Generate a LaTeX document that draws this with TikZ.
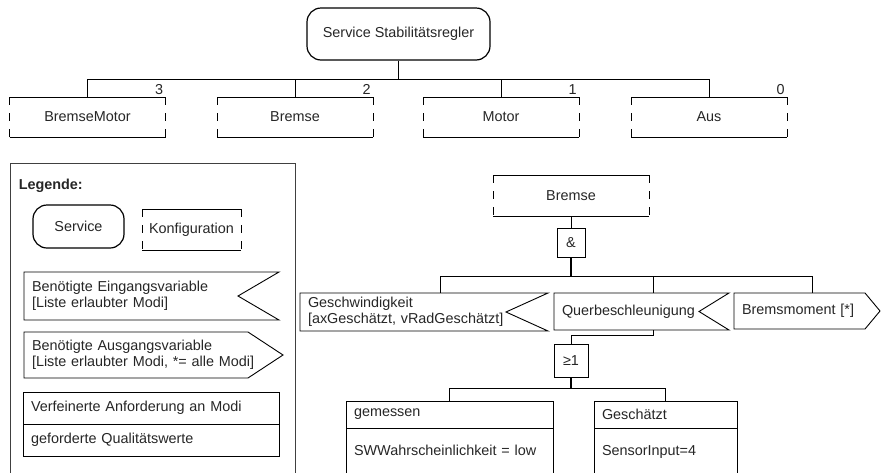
\documentclass[tikz,border=0pt]{standalone}
\usepackage{fontspec}
\setmainfont{Liberation Sans}
\usetikzlibrary{positioning}

\tikzset{
  every node/.style={font=\fontsize{14.4}{16.5}\selectfont, text=black!85},
  dienst/.style={draw, rounded corners=14pt, line width=1.2pt},
  konfig/.style={minimum width=156pt, minimum height=40pt, outer sep=0pt},
  gatter/.style={draw, inner sep=0pt},
  flagge/.style={inner xsep=8pt, align=left, outer sep=0pt},
  feld/.style={draw, outer sep=0pt, inner xsep=8pt, align=left},
  nummer/.style={label={[anchor=south east, inner sep=2pt]north east:#1}},
  dick/.style={line width=1.8pt}
}

\begin{document}
\begin{tikzpicture}[x=1pt, y=-1pt, line width=0.9pt]
\useasboundingbox (0,0) rectangle (881,472);
\clip (0,0) rectangle (881,472);

% Service und Konfigurationen
\node (stab) [dienst, minimum width=183pt, minimum height=52pt] at (398.5,34) {Service Stabilitätsregler};
\node (kbm) [konfig, nummer=3] at (87.5,117) {BremseMotor};
\node (kbr) [konfig, nummer=2] at (295,117) {Bremse};
\node (kmo) [konfig, nummer=1] at (501,117) {Motor};
\node (kau) [konfig, nummer=0] at (709,117) {Aus};

% Legende
\node (legende) [draw, black!75, minimum width=285pt, minimum height=330pt, anchor=north west] at (10,163) {};
\node (ltitel) [below right=12pt and 5pt of legende.north west, font=\fontsize{14.4}{16.5}\selectfont\bfseries] {Legende:};
\node (lserv) [dienst, minimum width=91pt, minimum height=43pt] at (78.5,226.5) {Service};
\node (lkonf) [konfig, minimum width=99pt, minimum height=41pt] at (191.5,229.5) {Konfiguration};
\node (lein) [flagge, text width=239pt, minimum width=255pt, minimum height=48pt] at (151.5,296) {Benötigte Eingangsvariable\\{}[Liste erlaubter Modi]};
\node (laus) [flagge, text width=243pt, minimum width=259pt, minimum height=46pt] at (153.5,355) {Benötigte Ausgangsvariable\\{}[Liste erlaubter Modi, *= alle Modi]};
\node (lverf) [feld, text width=240pt, minimum height=32pt] at (151,408) {Verfeinerte Anforderung an Modi};
\node (lqual) [feld, text width=240pt, minimum height=32pt, below=0pt of lverf] {geforderte Qualitätswerte};

% Konfiguration Bremse
\node (bremse) [konfig, minimum height=41pt] at (571,195.5) {Bremse};
\node (und) [gatter, minimum width=28pt, minimum height=29pt] at (571,242.5) {\&};
\node (vges) [flagge, text width=232pt, minimum width=248pt, minimum height=38pt] at (424,312) {Geschwindigkeit\\{}[axGeschätzt, vRadGeschätzt]};
\node (vquer) [flagge, text width=159pt, minimum width=175pt, minimum height=37pt] at (641.5,311.5) {Querbeschleunigung};
\node (vbrm) [flagge, text width=130pt, minimum width=146pt, minimum height=36pt] at (807,311) {Bremsmoment [*]};
\node (oder) [gatter, minimum width=34pt, minimum height=33pt] at (571,360.5) {≥1};
\node (gem) [feld, text width=191pt, minimum height=27pt] at (449.5,414.5) {gemessen};
\node (gemw) [feld, text width=191pt, inner ysep=4pt, text height=23pt, text depth=30pt, below=0pt of gem] {SWWahrscheinlichkeit = low};
\node (gesch) [feld, text width=127pt, minimum height=27pt] at (665.5,414.5) {Geschätzt};
\node (geschw) [feld, text width=127pt, inner ysep=4pt, text height=23pt, text depth=30pt, below=0pt of gesch] {SensorInput=4};

% Konfigurationen: Seiten gestrichelt
\foreach \k in {kbm,kbr,kmo,kau,lkonf,bremse} {
  \draw (\k.north west) -- (\k.north east) (\k.south west) -- (\k.south east);
  \draw [dash pattern=on 8pt off 8pt] (\k.north west) -- (\k.south west) (\k.north east) -- (\k.south east);
}
% Eingangs- und Ausgangsvariablen
\foreach \k/\tief in {lein/41,vges/42,vquer/30}
  \draw (\k.north west) -- (\k.north east) -- ([xshift=-\tief]\k.east) -- (\k.south east) -- (\k.south west) -- cycle;
\foreach \k/\tief in {laus/35,vbrm/15}
  \draw (\k.north west) -- ([xshift=-\tief]\k.north east) -- (\k.east) -- ([xshift=-\tief]\k.south east) -- (\k.south west) -- cycle;

% Verbindungen
\draw [dick] (stab.south) -- ++(0,19);
\foreach \k in {kbm,kbr,kmo,kau}
  \draw (stab.south) ++(0,19) -| (\k.north);
\draw (bremse.south) -- (und.north);
\draw [dick] (und.south) -- ++(0,19);
\foreach \k/\dx in {vges/16,vquer/11.5,vbrm/5}
  \draw (und.south) ++(0,19) -| ([xshift=\dx]\k.north);
\draw ([xshift=11.5]vquer.south) -- ++(0,5) -| (oder.north);
\draw [dick] (oder.south) -- ++(0,11);
\foreach \k in {gem,gesch}
  \draw (oder.south) ++(0,11) -| (\k.north);
\end{tikzpicture}
\end{document}
